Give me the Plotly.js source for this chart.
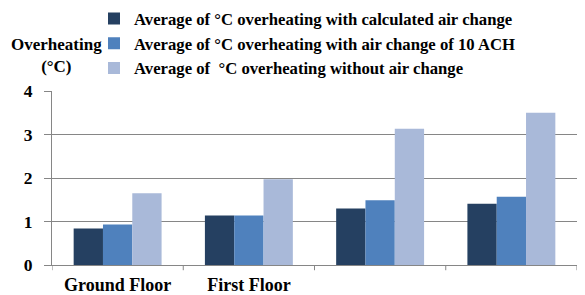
<!DOCTYPE html>
<html><head><meta charset="utf-8">
<script src="https://cdn.plot.ly/plotly-3.0.1.min.js"></script>
<style>html,body{margin:0;padding:0;background:#fff}#chart{width:585px;height:295px}</style>
</head><body><div id="chart"></div>
<script>
const categories = [0, 1, 2, 3];
const tickLabels = ["Ground Floor", "First Floor", "", ""];
const seriesNames = [
  "Average of °C overheating with calculated air change",
  "Average of °C overheating with air change of 10 ACH",
  "Average of  °C overheating without air change"
];
const calculated = [0.84, 1.14, 1.30, 1.41];
const ach10 = [0.93, 1.14, 1.49, 1.57];
const noChange = [1.65, 1.97, 3.13, 3.50];
const colors = ["#254061", "#4F81BD", "#A9B9D9"];
const font = "Liberation Serif";

const vals = [calculated, ach10, noChange];
const traces = vals.map((v, i) => ({
  type: "bar", x: categories, y: v, name: seriesNames[i],
  marker: {color: colors[i], line: {width: 0}}, legendgroup: "g" + i
}));

const layout = {
  width: 585, height: 295,
  margin: {l: 52, r: 8, t: 91, b: 30},
  paper_bgcolor: "#fff", plot_bgcolor: "#fff",
  barmode: "group", bargap: 0.33, bargroupgap: 0,
  font: {family: font, color: "#000"},
  showlegend: true,
  legend: {x: 0.08, y: 0.996, yref: "container", xanchor: "left", yanchor: "top",
    font: {family: font, size: 16.7, color: "#000", weight: "bold"},
    traceorder: "normal", tracegroupgap: 2, itemwidth: 30, bgcolor: "rgba(0,0,0,0)"},
  xaxis: {tickvals: categories, ticktext: tickLabels, range: [-0.5, 3.5],
    showline: true, linecolor: "#868686", linewidth: 1,
    ticks: "", showgrid: false, zeroline: false, ticklabelstandoff: 3,
    tickfont: {family: font, size: 18, color: "#000", weight: "bold"}},
  yaxis: {range: [0, 4], dtick: 1, showline: true, linecolor: "#868686",
    ticks: "outside", ticklen: 7, tickcolor: "#868686", ticklabelstandoff: 8,
    gridcolor: "#868686", gridwidth: 1, zeroline: false,
    tickfont: {family: font, size: 17.5, color: "#000", weight: "bold"}},
  shapes: [1.5, 0.5, 2.5, 3.5, -0.5].map(p => ({type: "line", xref: "x", yref: "paper",
    x0: p, x1: p, y0: 0, y1: -0.03, line: {color: "#868686", width: 1}})),
  annotations: [{xref: "paper", yref: "paper", x: 0.0095, y: 1.331, xanchor: "center", yanchor: "top",
    text: "Overheating<br>(°C)", showarrow: false,
    font: {family: font, size: 17, color: "#000", weight: "bold"}}]
};
Plotly.newPlot("chart", traces, layout, {displayModeBar: false, staticPlot: true});
</script></body></html>
